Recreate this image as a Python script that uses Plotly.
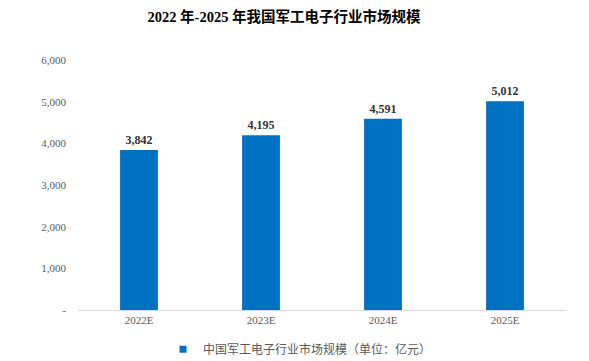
import plotly.graph_objects as go

categories = ["2022E", "2023E", "2024E", "2025E"]
values = [3842, 4195, 4591, 5012]
tick_vals = [0, 1000, 2000, 3000, 4000, 5000, 6000]
tick_text = ["-", "1,000", "2,000", "3,000", "4,000", "5,000", "6,000"]
series_name = "中国军工电子行业市场规模（单位：亿元）"
title_text = "2022 年-2025 年我国军工电子行业市场规模"

serif = "Liberation Serif, Times New Roman, Noto Sans CJK SC, serif"

fig = go.Figure()
fig.add_trace(go.Bar(
    x=categories, y=values, name=series_name,
    marker=dict(color="#0070C0", line=dict(width=0)),
    text=[f"{v:,}" for v in values], textposition="outside",
    textfont=dict(family=serif, size=12, color="#333333"),
    texttemplate="<b>%{text}</b>", cliponaxis=False,
    showlegend=False,
))
fig.add_trace(go.Scatter(
    x=[None], y=[None], mode="markers", name=series_name,
    marker=dict(symbol="square", size=7, color="#0070C0"),
    showlegend=True,
))
# page body has an 8px margin, so the figure is sized to fit the window
fig.update_layout(
    width=581, height=353,
    margin=dict(l=70, r=23, t=52, b=51, autoexpand=False),
    paper_bgcolor="white", plot_bgcolor="white",
    bargap=0.69,
    title=dict(text=f"<b>{title_text}</b>", x=0.475, xanchor="center",
               yref="container", y=0.974, yanchor="middle",
               font=dict(family=serif, size=14.5, color="#000000")),
    xaxis=dict(showline=True, linecolor="#D9D9D9", linewidth=1, ticks="",
               ticklabelstandoff=0,
               tickfont=dict(family=serif, size=11, color="#595959")),
    yaxis=dict(range=[0, 6000], tickvals=tick_vals, ticktext=tick_text,
               showgrid=False, zeroline=False, showline=False, ticks="",
               ticklabelstandoff=11,
               tickfont=dict(family=serif, size=11, color="#595959")),
    legend=dict(orientation="h", x=0.455, xanchor="center",
                yref="container", y=0.033, yanchor="middle",
                font=dict(family="Noto Sans CJK SC, sans-serif", size=12, color="#595959"),
                itemwidth=30),
)
fig.write_html("out.html")
